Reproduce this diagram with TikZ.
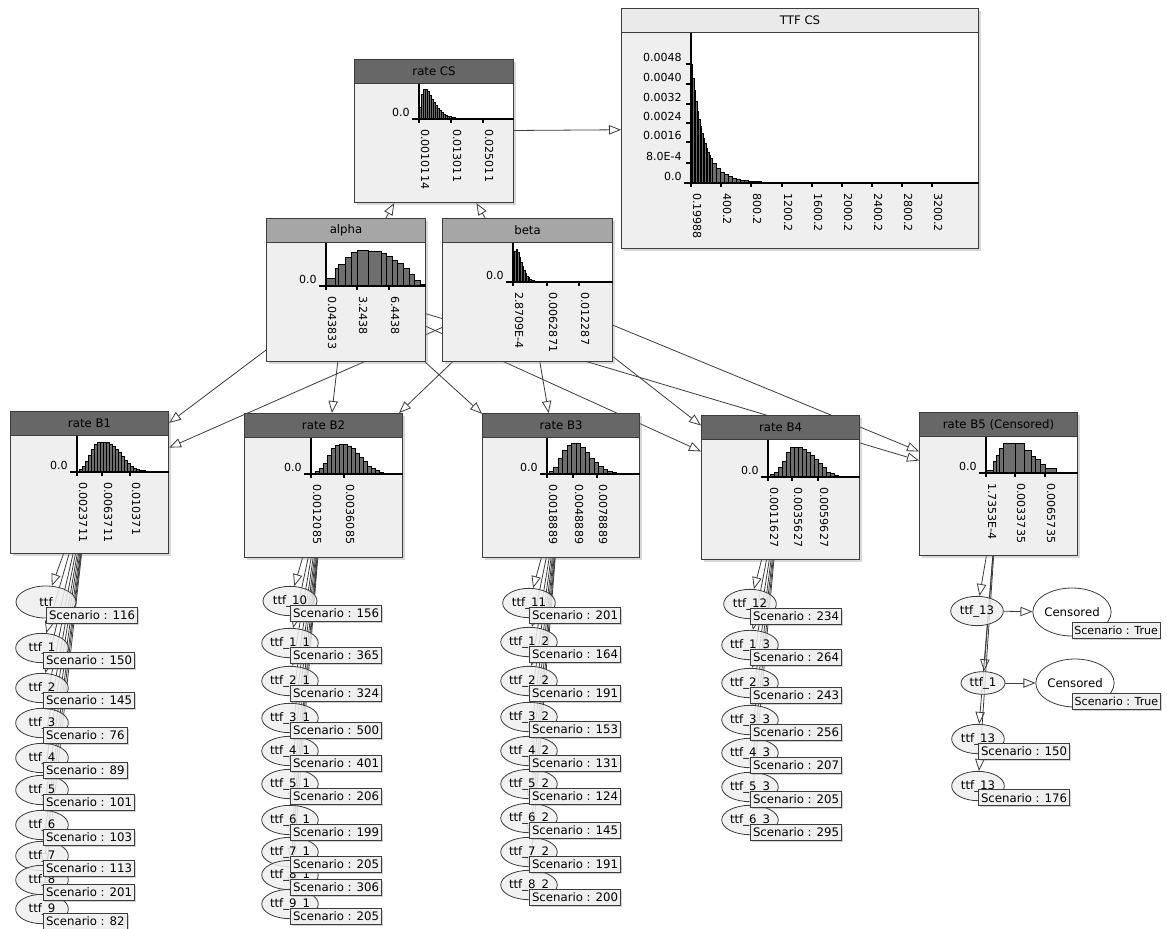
\documentclass[tikz,border=0pt]{standalone}
\usepackage{fontspec}
\setmainfont{DejaVu Sans}
\usetikzlibrary{positioning,calc,arrows.meta,shapes.geometric,shadows}
\definecolor{BoxBody}{RGB}{239,239,239}
\definecolor{HeadDark}{RGB}{103,103,103}
\definecolor{HeadMid}{RGB}{166,166,166}
\definecolor{HeadLight}{RGB}{234,234,234}
\definecolor{BarGray}{RGB}{110,110,110}
\definecolor{LineGray}{RGB}{60,60,60}
\pgfdeclarelayer{edges}
\pgfdeclarelayer{labels}
\pgfsetlayers{edges,main,labels}

\tikzset{
  bigtext/.style={font=\fontsize{8.8}{10}\selectfont},
  distbody/.style={draw=LineGray, line width=0.8pt, fill=BoxBody, inner sep=0pt,
    drop shadow={shadow xshift=1.8pt, shadow yshift=-1.8pt, opacity=0.3}},
  disthead/.style={draw=LineGray, line width=0.8pt, inner sep=0pt, minimum height=18pt, bigtext},
  histbar/.style={fill=BarGray, draw=black, line width=0.35pt},
  axisline/.style={black, line width=0.8pt},
  ticklabel/.style={inner sep=0pt},
  link/.style={draw=LineGray, line width=0.6pt, -{Triangle[length=9pt, width=7pt, fill=white]}},
  ttfnode/.style={ellipse, draw=LineGray, line width=0.6pt, fill=BoxBody, fill opacity=0.85,
    text opacity=1, minimum width=39.5pt, minimum height=22pt, inner sep=0pt, bigtext},
  censnode/.style={ellipse, draw=LineGray, line width=0.6pt, fill=white,
    minimum width=56pt, minimum height=36pt, inner sep=0pt, bigtext},
  scenario/.style={draw=LineGray, fill=BoxBody, line width=0.5pt, inner xsep=2pt, inner ysep=0pt,
    minimum height=12pt, bigtext, drop shadow={shadow xshift=1.2pt, shadow yshift=-1.2pt, opacity=0.35}}
}

% box with a title bar: name, left, top, width, height, bar colour, title
\newcommand{\distbox}[7]{%
  \node[distbody, anchor=north west, minimum width=#4*0.75pt, minimum height=#5*0.75pt] (#1) at (#2,#3) {};
  \node[disthead, fill=#6, anchor=north west, minimum width=#4*0.75pt] (#1-head) at (#1.north west) {#7};
}
\newcommand{\plotarea}[1]{%
  \fill[white] (#1-o |- #1-head.south) rectangle ($(#1.east |- #1-o)+(-0.6,0)$);}
% bars given as x/width/height from the plot origin
\newcommand{\histbars}[2]{%
  \foreach \bx/\bw/\bh in {#2} \draw[histbar] ($(#1)+(\bx,0)$) rectangle ++(\bw,-\bh);}
% bars from a formula in \bx: origin, start, bar width, number of bars, height
\newcommand{\histfun}[5]{%
  \foreach \i in {1,...,#4}{%
    \pgfmathsetmacro{\bx}{#2+(\i-0.5)*#3}%
    \pgfmathsetmacro{\bh}{#5}%
    \draw[histbar] ($(#1)+({#2+(\i-1)*#3},0)$) rectangle ++(#3,-\bh);}}
\newcommand{\plotaxes}[2]{%
  \draw[axisline] (#1-o |- #1-head.south) -- ($(#1-o)+(0,4)$);
  \draw[axisline] ($(#1-o)+(-7,0)$) -- (#1-o -| #1.east);
  \node[ticklabel, anchor=base east] at ($(#1-o)+(-9,-3)$) {0.0};
  \foreach \dx/\lab in {#2}{%
    \draw[axisline] ($(#1-o)+(\dx,0)$) -- ++(0,4);
    \node[ticklabel, rotate=-90, anchor=base west] at ($(#1-o)+(\dx+2,10)$) {\lab};}}

\begin{document}
\begin{tikzpicture}[x=0.75pt, y=-0.75pt, font=\fontsize{8.3}{10}\selectfont]
\useasboundingbox (0,0) rectangle (1167,928);
\begin{pgfonlayer}{edges}
\fill[white] (0,0) rectangle (1167,928);
\end{pgfonlayer}

% top part
\distbox{rateCS}{354}{59}{159}{143}{HeadDark}{rate CS}
\coordinate (rateCS-o) at (419,119);
\plotarea{rateCS}
\histfun{rateCS-o}{0}{2}{20}{30*(\bx/6)*exp(1-\bx/6)}
\plotaxes{rateCS}{0/0.0010114, 32/0.013011, 64/0.025011}

\distbox{ttfCS}{621}{8}{357}{240}{HeadLight}{TTF CS}
\coordinate (ttfCS-o) at (691,183);
\plotarea{ttfCS}
\histfun{ttfCS-o}{0}{1.5}{14}{118*exp(-\bx/11.5)+8*exp(-\bx/35)}
\histfun{ttfCS-o}{21}{4}{10}{118*exp(-\bx/11.5)+8*exp(-\bx/35)}
\histfun{ttfCS-o}{61}{9}{4}{118*exp(-\bx/11.5)+8*exp(-\bx/35)}
\plotaxes{ttfCS}{0/0.19988, 30/400.2, 60/800.2, 91/1200.2, 121/1600.2, 151/2000.2, 181/2400.2, 211/2800.2, 241/3200.2}
\foreach \dy/\lab in {20/8.0E-4, 41/0.0016, 60/0.0024, 79/0.0032, 99/0.0040, 119/0.0048}{
  \draw[axisline] ($(ttfCS-o)+(-5,-\dy)$) -- ++(5,0);
  \node[ticklabel, anchor=base east] at ($(ttfCS-o)+(-9,-\dy-3)$) {\lab};}

\distbox{alpha}{266}{218}{159}{143}{HeadMid}{alpha}
\coordinate (alpha-o) at (326,286);
\plotarea{alpha}
\histbars{alpha-o}{0/9.3/7.7, 9.3/3.4/17.7, 12.7/6.6/22, 19.3/5.7/29, 25/6.7/34, 31.7/11/36, 42.7/12.3/35, 55/5.3/32.7, 60.3/5.7/29.3, 66/5/26, 71/6/22.7, 77/6.3/17.7, 83.3/5/11.7, 88.3/6/6, 94.3/5/2}
\plotaxes{alpha}{0/0.043833, 31/3.2438, 63/6.4438}

\distbox{beta}{442}{218}{170}{143}{HeadMid}{beta}
\coordinate (beta-o) at (513,282);
\plotarea{beta}
\histfun{beta-o}{0}{1.5}{28}{max(33*(\bx/3.5)*exp(1-\bx/3.5),1.2)}
\plotaxes{beta}{0/2.8709E-4, 34/0.0062871, 66/0.012287}

% rate boxes
\distbox{rateB1}{10}{411}{158}{142}{HeadDark}{rate B1}
\coordinate (rateB1-o) at (77,472);
\plotarea{rateB1}
\histbars{rateB1-o}{2/3/3, 5/3/6, 8/3/11, 11/3/17, 14/3/23, 17/3/28, 20/3/30, 23/3/30, 26/3/30, 29/3/30, 32/3/28, 35/3/26, 38/3/23, 41/3/20, 44/3/16, 47/3/12, 50/3/9, 53/3/6, 56/3/4, 59/3/3, 62/3/2, 65/3/1.5, 68/3/1}
\plotaxes{rateB1}{0/0.0023711, 25/0.0063711, 53/0.010371}

\distbox{rateB2}{244}{413}{158}{144}{HeadDark}{rate B2}
\coordinate (rateB2-o) at (311,474);
\plotarea{rateB2}
\histbars{rateB2-o}{4/4/2.3, 8/4/5.7, 12/4/10.7, 16/4/19, 20/4/25.7, 24/4/29, 28/4/30, 32/4/30, 36/4/28, 40/4/25.7, 44/4/21, 48/4/16.7, 52/4/12.3, 56/4/8, 60/4/5.7, 64/4/3.3, 68/4/1.7, 72/4/1.2, 76/15/0.7}
\plotaxes{rateB2}{0/0.0012085, 33/0.0036085}

\distbox{rateB3}{482}{413}{157}{144}{HeadDark}{rate B3}
\coordinate (rateB3-o) at (547,474);
\plotarea{rateB3}
\histbars{rateB3-o}{2/4.5/2.3, 6.5/4.5/7, 11/4.5/16, 15.5/4.5/24, 20/4.5/29, 24.5/4.5/31, 29/4.5/30.5, 33.5/4.5/27, 38/4.5/22, 42.5/4.5/16, 47/4.5/11.5, 51.5/4.5/8, 56/4.5/5, 60.5/4.5/2.5, 65/4.5/1.5}
\plotaxes{rateB3}{0/0.0018889, 26/0.0048889, 50/0.0078889}

\distbox{rateB4}{701}{415}{158}{144}{HeadDark}{rate B4}
\coordinate (rateB4-o) at (768,477);
\plotarea{rateB4}
\histbars{rateB4-o}{2/4/2.7, 6/4/5, 10/4/10, 14/4/16, 18/4/25, 22/4/30, 26/4/30, 30/4/30, 34/4/28, 38/4/25, 42/4/21.7, 46/4/17.3, 50/4/13.3, 54/4/9.3, 58/4/5, 62/4/3.3, 66/4/1.7, 70/20/0.8}
\plotaxes{rateB4}{0/0.0011627, 24/0.0035627, 50/0.0059627}

\distbox{rateB5}{919}{412}{158}{143}{HeadDark}{rate B5 (Censored)}
\coordinate (rateB5-o) at (986,473);
\plotarea{rateB5}
\histbars{rateB5-o}{0.3/6.7/2.7, 7/3.3/11.7, 10.3/3.4/17.7, 13.7/3.3/25, 17/12.3/30, 29.3/9/30, 38.3/6.7/22.3, 45/4.3/16.7, 49.3/5/13.3, 54.3/5/8.3, 59.3/10.7/5, 70/21/1.2}
\plotaxes{rateB5}{0/1.7353E-4, 29/0.0033735, 59/0.0065735}

% observed times under each rate
\node[ttfnode, minimum width=45pt, minimum height=24pt] (c1n0) at (46,602) {ttf};
\begin{pgfonlayer}{labels}
\node[scenario, below right=3.5pt and 0pt of c1n0.center] {Scenario : 116};
\end{pgfonlayer}
\foreach \n/\lbl/\y/\s in {1/ttf\_1/648/150, 2/ttf\_2/688/145, 3/ttf\_3/723/76, 4/ttf\_4/758/89, 5/ttf\_5/790/101, 6/ttf\_6/825/103, 7/ttf\_7/856/113, 8/ttf\_8/880/201, 9/ttf\_9/909/82}{
  \node[ttfnode] (c1n\n) at (42,\y) {\lbl};
  \begin{pgfonlayer}{labels}
  \node[scenario, below right=3pt and 0.75pt of c1n\n.center] {Scenario : \s};
  \end{pgfonlayer}}

\foreach \n/\lbl/\y/\s in {0/ttf\_10/601/156, 1/ttf\_1\_1/643/365, 2/ttf\_2\_1/681/324, 3/ttf\_3\_1/718/500, 4/ttf\_4\_1/751/401, 5/ttf\_5\_1/784/206, 6/ttf\_6\_1/820/199, 7/ttf\_7\_1/852/205, 8/ttf\_8\_1/875/306, 9/ttf\_9\_1/904/205}{
  \node[ttfnode, minimum width=40.5pt] (c2n\n) at (290,\y) {\lbl};
  \begin{pgfonlayer}{labels}
  \node[scenario, below right=3pt and 0pt of c2n\n.center] {Scenario : \s};
  \end{pgfonlayer}}

\foreach \n/\lbl/\y/\s in {0/ttf\_11/603/201, 1/ttf\_1\_2/642/164, 2/ttf\_2\_2/681/191, 3/ttf\_3\_2/717/153, 4/ttf\_4\_2/751/131, 5/ttf\_5\_2/784/124, 6/ttf\_6\_2/818/145, 7/ttf\_7\_2/852/191, 8/ttf\_8\_2/885/200}{
  \node[ttfnode] (c3n\n) at (529,\y) {\lbl};
  \begin{pgfonlayer}{labels}
  \node[scenario, below right=3pt and 0pt of c3n\n.center] {Scenario : \s};
  \end{pgfonlayer}}

\foreach \n/\lbl/\y/\s in {0/ttf\_12/604/234, 1/ttf\_1\_3/645/264, 2/ttf\_2\_3/683/243, 3/ttf\_3\_3/720/256, 4/ttf\_4\_3/753/207, 5/ttf\_5\_3/787/205, 6/ttf\_6\_3/820/295}{
  \node[ttfnode] (c4n\n) at (750,\y) {\lbl};
  \begin{pgfonlayer}{labels}
  \node[scenario, below right=3pt and 0pt of c4n\n.center] {Scenario : \s};
  \end{pgfonlayer}}

% censored column
\node[ttfnode] (c5n0) at (977,611) {ttf\_13};
\node[censnode] (cens0) at (1072,612) {Censored};
\node[ttfnode, minimum width=33pt, minimum height=17pt] (c5n1) at (983,683) {ttf\_1};
\node[censnode] (cens1) at (1075,683) {Censored};
\node[ttfnode] (c5n2) at (978,739) {ttf\_13};
\node[ttfnode] (c5n3) at (978,786) {ttf\_13};
\begin{pgfonlayer}{labels}
\node[scenario, font=\fontsize{8.3}{10}\selectfont, inner xsep=1.5pt, below right=7.5pt and 0pt of cens0.center] {Scenario : True};
\node[scenario, font=\fontsize{8.3}{10}\selectfont, inner xsep=1.5pt, below right=7.5pt and -2pt of cens1.center] {Scenario : True};
\node[scenario, below right=3pt and 0pt of c5n2.center] {Scenario : 150};
\node[scenario, below right=2.5pt and 0pt of c5n3.center] {Scenario : 176};
\end{pgfonlayer}

% connectors
\begin{pgfonlayer}{edges}
\draw[link] (rateCS) -- (ttfCS);
\foreach \p in {alpha,beta}{
  \draw[link] (\p) -- (rateCS);
  \foreach \k in {1,...,5} \draw[link] (\p) -- (rateB\k);}
\foreach \n in {0,...,9} \draw[link] (rateB1) -- (c1n\n);
\foreach \n in {0,...,9} \draw[link] (rateB2) -- (c2n\n);
\foreach \n in {0,...,8} \draw[link] (rateB3) -- (c3n\n);
\foreach \n in {0,...,6} \draw[link] (rateB4) -- (c4n\n);
\foreach \n in {0,...,3} \draw[link] (rateB5) -- (c5n\n);
\draw[link] (c5n0) -- (cens0);
\draw[link] (c5n1) -- (cens1);
\end{pgfonlayer}
\end{tikzpicture}
\end{document}
